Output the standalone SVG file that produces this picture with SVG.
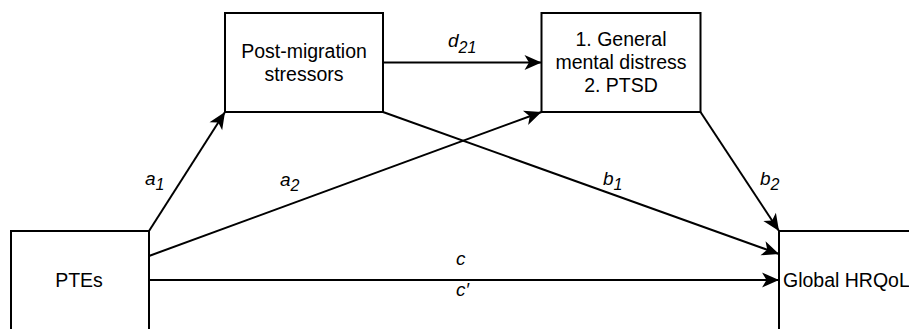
<svg xmlns="http://www.w3.org/2000/svg" width="909" height="329" viewBox="0 0 909 329">
<style>
.box{fill:#fff;stroke:#000;stroke-width:2}
.t{font-family:"Liberation Sans",Arial,sans-serif;font-size:19.5px;fill:#000}
.c{text-anchor:middle}
.lbl{font-family:"Liberation Sans",Arial,sans-serif;font-size:19px;font-style:italic;fill:#000}
.sub{font-size:16px}
.e{fill:none;stroke:#000;stroke-width:2;marker-end:url(#arr)}
</style>
<defs>
<marker id="arr" markerUnits="userSpaceOnUse" markerWidth="17" markerHeight="15" refX="17" refY="7.5" orient="auto" overflow="visible">
<path d="M0,0 L17,7.5 L0,15 L4.5,7.5 z" fill="#000"/>
</marker>
</defs>
<g id="connectors">
<path class="e" d="M149,231 L225,112"/>
<path class="e" d="M149,256 L541.5,112"/>
<path class="e" d="M383,62.5 L541.5,62.5"/>
<path class="e" d="M383,112 L779,254"/>
<path class="e" d="M700.5,112 L779,231"/>
<path class="e" d="M149,280 L779,280"/>
<text class="lbl" x="145" y="185">a<tspan class="sub" dy="5">1</tspan></text>
<text class="lbl" x="280" y="186">a<tspan class="sub" dy="5">2</tspan></text>
<text class="lbl" x="448" y="47">d<tspan class="sub" dy="6">21</tspan></text>
<text class="lbl" x="603" y="185">b<tspan class="sub" dy="5">1</tspan></text>
<text class="lbl" x="760" y="185">b<tspan class="sub" dy="5">2</tspan></text>
<text class="lbl" x="456" y="265">c</text>
<text class="lbl" x="456" y="296">c′</text>
</g>
<g id="post-migration">
<rect class="box" x="225" y="13" width="158" height="99"/>
<text class="t c" x="304" y="58">Post-migration</text>
<text class="t c" x="304" y="81">stressors</text>
</g>
<g id="distress">
<rect class="box" x="541.5" y="13" width="159" height="99"/>
<text class="t c" x="621" y="46">1. General</text>
<text class="t c" x="621" y="69">mental distress</text>
<text class="t c" x="621" y="92">2. PTSD</text>
</g>
<g id="ptes">
<rect class="box" x="11" y="231" width="138" height="120"/>
<text class="t c" x="79" y="287">PTEs</text>
</g>
<g id="hrqol">
<rect class="box" x="779" y="231" width="160" height="120"/>
<text class="t" x="783" y="287">Global HRQoL</text>
</g>
</svg>
